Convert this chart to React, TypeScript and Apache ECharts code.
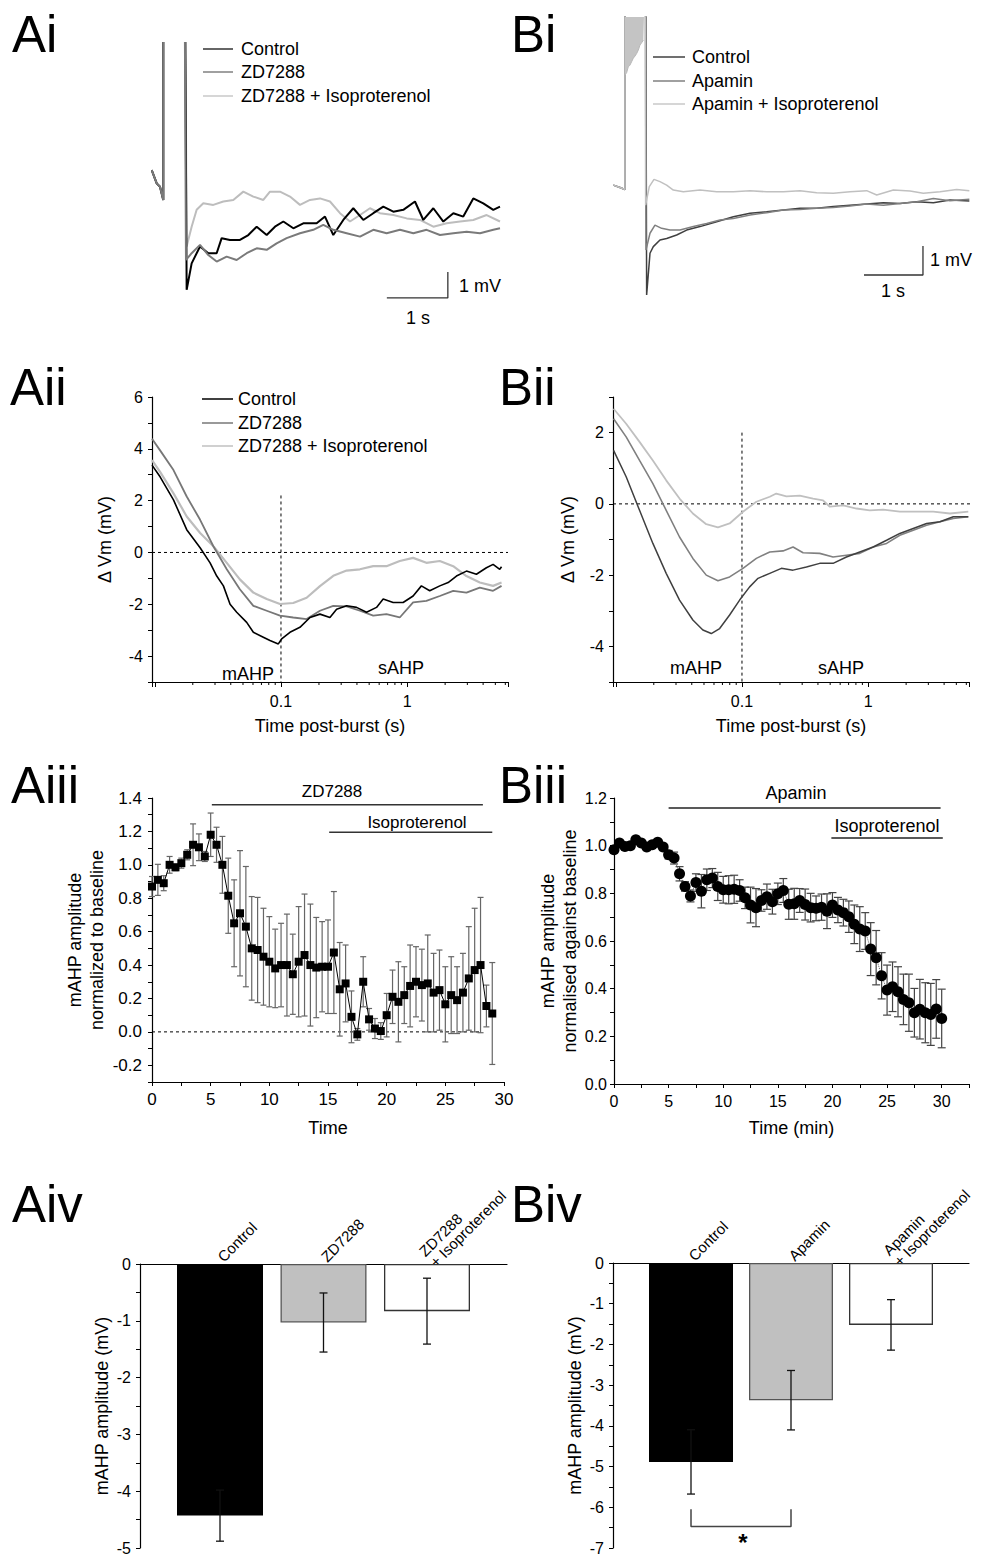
import React, { useEffect, useRef } from 'react';
import * as echarts from 'echarts';

const FONT = 'Liberation Sans, Arial, Helvetica, sans-serif';

// ---------- Ai: raw traces (s, mV) ----------
const aiPreBurst = [[-0.185, 1.15], [-0.103, 0.64], [-0.049, 0.51], [0.005, 0.0], [0.005, 30], [0.311, 30]];
const aiControl = [[0.388, -3.46], [0.47, -2.44], [0.607, -1.79], [0.743, -2.05], [0.88, -2.05], [0.962, -1.47], [1.098, -1.54], [1.262, -1.54], [1.399, -1.35], [1.536, -1.03], [1.7, -1.35], [1.836, -1.03], [1.973, -0.83], [2.137, -1.09], [2.3, -0.9], [2.519, -0.9], [2.656, -0.64], [2.792, -1.35], [2.956, -0.77], [3.12, -0.32], [3.284, -0.77], [3.448, -0.51], [3.612, -0.26], [3.776, -0.45], [3.94, -0.38], [4.131, -0.06], [4.268, -0.77], [4.432, -0.32], [4.596, -0.83], [4.76, -0.51], [4.923, -0.64], [5.087, 0.06], [5.251, -0.13], [5.415, -0.38], [5.525, -0.26]];
const aiZD = [[0.377, -2.31], [0.47, -2.05], [0.607, -1.73], [0.743, -2.12], [0.88, -2.37], [1.044, -2.18], [1.208, -2.31], [1.372, -2.05], [1.536, -1.86], [1.7, -1.92], [1.863, -1.67], [2.027, -1.47], [2.246, -1.28], [2.464, -1.15], [2.628, -0.96], [2.792, -1.15], [3.011, -1.28], [3.23, -1.41], [3.448, -1.15], [3.667, -1.28], [3.885, -1.15], [4.104, -1.28], [4.322, -1.15], [4.541, -1.35], [4.76, -1.28], [4.978, -1.22], [5.197, -1.28], [5.415, -1.15], [5.525, -1.09]];
const aiIso = [[0.388, -1.79], [0.47, -1.03], [0.552, -0.38], [0.661, -0.13], [0.825, -0.19], [0.989, -0.06], [1.153, 0], [1.317, 0.32], [1.481, 0.13], [1.645, 0], [1.754, 0.32], [1.918, 0.32], [2.082, 0.13], [2.246, -0.19], [2.41, 0], [2.574, 0.06], [2.738, -0.06], [2.902, -0.51], [3.066, -0.83], [3.23, -0.58], [3.393, -0.32], [3.557, -0.51], [3.776, -0.58], [3.995, -0.71], [4.213, -0.77], [4.432, -1.03], [4.651, -0.9], [4.869, -0.83], [5.087, -0.77], [5.306, -0.58], [5.525, -0.83]];
const aiScaleBar = [[3.67, -3.77], [4.67, -3.77], [4.67, -2.77]];

// ---------- Bi: raw traces (s, mV) ----------
const biPreBurst = [[-0.198, 0.1], [-0.085, 0.02], [0, -0.05], [0, 30], [0.322, 30]];
const biBurstLowerEdge = [[0, 3.9], [0.028, 3.98], [0.056, 4.18], [0.085, 4.24], [0.113, 4.36], [0.141, 4.48], [0.169, 4.55], [0.198, 4.64], [0.226, 4.76], [0.254, 4.93], [0.282, 5.01], [0.311, 5.1], [0.322, 5.1]];
const biControl = [[0.367, -3.69], [0.424, -2.25], [0.48, -2.02], [0.593, -1.79], [0.706, -1.74], [0.876, -1.62], [1.045, -1.45], [1.271, -1.33], [1.554, -1.16], [1.836, -0.99], [2.119, -0.87], [2.401, -0.82], [2.684, -0.76], [2.966, -0.7], [3.249, -0.7], [3.531, -0.64], [3.814, -0.59], [4.096, -0.55], [4.379, -0.51], [4.661, -0.53], [4.944, -0.47], [5.226, -0.51], [5.508, -0.41], [5.836, -0.45]];
const biApamin = [[0.356, -2.14], [0.424, -1.56], [0.508, -1.28], [0.621, -1.39], [0.763, -1.45], [0.932, -1.45], [1.158, -1.33], [1.384, -1.22], [1.61, -1.1], [1.836, -1.05], [2.119, -0.93], [2.401, -0.85], [2.684, -0.76], [2.966, -0.74], [3.249, -0.7], [3.531, -0.67], [3.814, -0.62], [4.096, -0.55], [4.379, -0.59], [4.661, -0.53], [4.944, -0.47], [5.226, -0.36], [5.508, -0.44], [5.836, -0.39]];
const biIso = [[0.35, -0.59], [0.412, 0.05], [0.492, 0.3], [0.593, 0.22], [0.706, 0.1], [0.819, -0.07], [0.989, -0.13], [1.271, -0.07], [1.554, -0.13], [1.836, -0.13], [2.119, -0.09], [2.401, -0.13], [2.684, -0.13], [2.966, -0.09], [3.249, -0.16], [3.531, -0.18], [3.814, -0.13], [4.096, -0.09], [4.266, -0.24], [4.548, -0.07], [4.831, -0.1], [5.056, -0.18], [5.339, -0.13], [5.621, -0.05], [5.836, -0.09]];
const biScaleBar = [[4.05, -3.0], [5.05, -3.0], [5.05, -2.0]];

// ---------- Aii / Bii: ΔVm vs time post-burst (s, mV) ----------
const aiiControl = [[0.0095, 3.37], [0.01101, 2.92], [0.01406, 2.03], [0.0179, 0.88], [0.02286, 0.18], [0.02742, -0.4], [0.03096, -0.91], [0.03497, -1.29], [0.03949, -2.0], [0.04458, -2.31], [0.05348, -2.7], [0.06039, -3.08], [0.07244, -3.27], [0.08182, -3.4], [0.09527, -3.53], [0.1012, -3.34], [0.1178, -3.08], [0.1413, -2.89], [0.1698, -2.51], [0.2037, -2.38], [0.2443, -2.51], [0.276, -2.19], [0.3311, -2.06], [0.3972, -2.12], [0.4766, -2.31], [0.5717, -2.12], [0.6457, -1.8], [0.7745, -1.93], [0.9291, -1.93], [1.115, -1.68], [1.297, -1.29], [1.51, -1.48], [1.815, -1.29], [2.113, -1.16], [2.459, -0.91], [2.951, -0.72], [3.54, -0.84], [4.249, -0.59], [4.8, -0.46], [5.42, -0.65], [5.6, -0.55]];
const aiiZD = [[0.0095, 4.39], [0.01101, 3.94], [0.01406, 3.18], [0.0179, 2.16], [0.02286, 1.26], [0.0291, 0.24], [0.03718, -0.65], [0.04722, -1.42], [0.06039, -2.06], [0.0771, -2.25], [0.0982, -2.44], [0.125, -2.51], [0.1597, -2.57], [0.2037, -2.25], [0.2598, -2.06], [0.3311, -2.08], [0.4223, -2.25], [0.5383, -2.44], [0.6856, -2.38], [0.8735, -2.51], [1.115, -1.93], [1.42, -1.87], [1.815, -1.68], [2.318, -1.48], [2.951, -1.55], [3.764, -1.36], [4.8, -1.48], [5.6, -1.29]];
const aiiIso = [[0.0095, 3.56], [0.01101, 3.11], [0.01406, 2.28], [0.0179, 1.39], [0.02286, 0.75], [0.0291, 0.24], [0.03718, -0.4], [0.04722, -1.04], [0.06039, -1.55], [0.0771, -1.8], [0.0982, -1.99], [0.125, -1.95], [0.1597, -1.75], [0.2037, -1.3], [0.2598, -0.9], [0.3311, -0.7], [0.4223, -0.65], [0.5383, -0.53], [0.6856, -0.53], [0.8735, -0.33], [1.115, -0.21], [1.42, -0.4], [1.815, -0.33], [2.318, -0.53], [2.951, -0.91], [3.764, -1.16], [4.8, -1.29], [5.6, -1.16]];
const biiControl = [[0.0096, 1.5], [0.01208, 0.76], [0.01542, -0.18], [0.01967, -1.11], [0.02508, -1.95], [0.03199, -2.7], [0.04081, -3.26], [0.04898, -3.54], [0.05711, -3.64], [0.06653, -3.5], [0.0798, -3.12], [0.0958, -2.7], [0.115, -2.33], [0.134, -2.09], [0.166, -1.95], [0.2053, -1.81], [0.2539, -1.86], [0.3241, -1.77], [0.4133, -1.67], [0.5273, -1.67], [0.6728, -1.49], [0.8585, -1.35], [1.096, -1.21], [1.4, -1.02], [1.783, -0.83], [2.277, -0.69], [2.905, -0.55], [3.706, -0.5], [4.73, -0.36], [6.22, -0.36]];
const biiApamin = [[0.0096, 2.39], [0.01208, 1.88], [0.01542, 1.22], [0.01967, 0.57], [0.02508, -0.18], [0.03199, -0.93], [0.04081, -1.53], [0.0521, -2.0], [0.0645, -2.16], [0.0798, -2.05], [0.1018, -1.81], [0.13, -1.53], [0.166, -1.35], [0.2115, -1.32], [0.254, -1.21], [0.305, -1.37], [0.4133, -1.39], [0.5273, -1.49], [0.6728, -1.44], [0.8585, -1.39], [1.096, -1.21], [1.4, -1.11], [1.783, -0.88], [2.277, -0.74], [2.905, -0.6], [3.706, -0.5], [4.73, -0.41], [6.22, -0.36]];
const biiIso = [[0.0096, 2.67], [0.01208, 2.25], [0.01542, 1.74], [0.01967, 1.22], [0.02508, 0.66], [0.03199, 0.15], [0.04081, -0.27], [0.0521, -0.57], [0.0645, -0.66], [0.0798, -0.55], [0.1018, -0.22], [0.13, 0.06], [0.166, 0.2], [0.187, 0.29], [0.225, 0.21], [0.287, 0.23], [0.366, 0.15], [0.439, 0.1], [0.497, -0.08], [0.634, -0.04], [0.808, -0.13], [1.03, -0.18], [1.315, -0.16], [1.783, -0.22], [2.42, -0.22], [3.28, -0.22], [4.45, -0.27], [6.22, -0.22]];
const logMinorTicks = [0.02, 0.03, 0.04, 0.05, 0.06, 0.07, 0.08, 0.09, 0.2, 0.3, 0.4, 0.5, 0.6, 0.7, 0.8, 0.9, 2, 3, 4, 5, 6];

// ---------- Aiii: time course ----------
const aiiiTime = [0, 0.5, 1, 1.5, 2, 2.5, 3, 3.5, 4, 4.5, 5, 5.5, 6, 6.5, 7, 7.5, 8, 8.5, 9, 9.5, 10, 10.5, 11, 11.5, 12, 12.5, 13, 13.5, 14, 14.5, 15, 15.5, 16, 16.5, 17, 17.5, 18, 18.5, 19, 19.5, 20, 20.5, 21, 21.5, 22, 22.5, 23, 23.5, 24, 24.5, 25, 25.5, 26, 26.5, 27, 27.5, 28, 28.5, 29];
const aiiiMean = [0.87, 0.91, 0.89, 1.0, 0.985, 1.01, 1.06, 1.12, 1.105, 1.05, 1.18, 1.12, 1.0, 0.815, 0.65, 0.71, 0.63, 0.5, 0.49, 0.45, 0.42, 0.38, 0.4, 0.4, 0.345, 0.42, 0.46, 0.4, 0.385, 0.39, 0.39, 0.475, 0.255, 0.29, 0.09, -0.015, 0.3, 0.075, 0.02, 0.005, 0.1, 0.21, 0.18, 0.22, 0.275, 0.3, 0.28, 0.29, 0.235, 0.25, 0.165, 0.22, 0.19, 0.235, 0.32, 0.37, 0.4, 0.155, 0.11];
const aiiiSem = [0.06, 0.093, 0.045, 0.05, 0.02, 0.03, 0.03, 0.125, 0.08, 0.03, 0.13, 0.105, 0.17, 0.225, 0.26, 0.375, 0.36, 0.31, 0.315, 0.29, 0.27, 0.235, 0.25, 0.305, 0.24, 0.33, 0.365, 0.365, 0.3, 0.27, 0.28, 0.365, 0.28, 0.23, 0.155, 0.035, 0.15, 0.065, 0.06, 0.05, 0.13, 0.16, 0.24, 0.17, 0.245, 0.21, 0.215, 0.29, 0.235, 0.24, 0.225, 0.23, 0.2, 0.235, 0.31, 0.37, 0.405, 0.125, 0.305];
const aiiiDrugBar = [[5.1, 1.36], [28.2, 1.36]];
const aiiiIsoBar = [[15.1, 1.195], [29, 1.195]];
const aiiiZeroLine = [[0, 0], [28, 0]];

// ---------- Biii: time course ----------
const biiiTime = [0, 0.5, 1, 1.5, 2, 2.5, 3, 3.5, 4, 4.5, 5, 5.5, 6, 6.5, 7, 7.5, 8, 8.5, 9, 9.5, 10, 10.5, 11, 11.5, 12, 12.5, 13, 13.5, 14, 14.5, 15, 15.5, 16, 16.5, 17, 17.5, 18, 18.5, 19, 19.5, 20, 20.5, 21, 21.5, 22, 22.5, 23, 23.5, 24, 24.5, 25, 25.5, 26, 26.5, 27, 27.5, 28, 28.5, 29, 29.5, 30];
const biiiMean = [0.983, 1.011, 0.997, 1.0, 1.025, 1.011, 0.994, 1.004, 1.014, 0.994, 0.962, 0.948, 0.882, 0.829, 0.789, 0.845, 0.809, 0.857, 0.864, 0.829, 0.815, 0.815, 0.817, 0.812, 0.781, 0.751, 0.74, 0.77, 0.786, 0.765, 0.798, 0.812, 0.754, 0.756, 0.77, 0.753, 0.74, 0.737, 0.742, 0.725, 0.751, 0.73, 0.719, 0.702, 0.67, 0.65, 0.642, 0.566, 0.53, 0.454, 0.394, 0.408, 0.387, 0.355, 0.341, 0.299, 0.314, 0.299, 0.292, 0.315, 0.275];
const biiiSem = [0.01, 0.01, 0.01, 0.01, 0.01, 0.01, 0.01, 0.01, 0.01, 0.01, 0.018, 0.025, 0.03, 0.02, 0.025, 0.037, 0.07, 0.045, 0.04, 0.059, 0.056, 0.059, 0.059, 0.045, 0.045, 0.075, 0.08, 0.045, 0.053, 0.052, 0.045, 0.05, 0.063, 0.065, 0.05, 0.065, 0.06, 0.052, 0.055, 0.073, 0.052, 0.053, 0.056, 0.066, 0.081, 0.094, 0.077, 0.111, 0.114, 0.097, 0.105, 0.104, 0.105, 0.106, 0.12, 0.102, 0.125, 0.126, 0.13, 0.123, 0.123];
const biiiDrugBar = [[5, 1.158], [29.9, 1.158]];
const biiiIsoBar = [[19.9, 1.032], [30.1, 1.032]];

// ---------- Aiv / Biv: bar charts ----------
const barPositions = [1, 2, 3];
const aivCategories = ['Control', 'ZD7288', 'ZD7288\n+ Isoproterenol'];
const aivMeans = [-4.43, -1.03, -0.83];
const aivSem = [0.45, 0.52, 0.58];
const bivCategories = ['Control', 'Apamin', 'Apamin\n+ Isoproterenol'];
const bivMeans = [-4.885, -3.37, -1.52];
const bivSem = [0.79, 0.73, 0.62];
const bivBracket = [[1, -6.05], [1, -6.47], [2, -6.47], [2, -6.05]];
const barFills = ['#000000', '#c0c0c0', '#ffffff'];
const barBorders = ['#000000', '#555555', '#333333'];

// ---------- helpers ----------
function axis(o: any) {
  return {
    type: o.type || 'value',
    gridIndex: o.grid,
    min: o.min,
    max: o.max,
    interval: o.interval,
    logBase: o.logBase,
    position: o.position,
    name: o.name,
    nameLocation: 'middle',
    nameGap: o.nameGap,
    nameRotate: o.nameRotate,
    nameTextStyle: { color: '#000', fontFamily: FONT, fontSize: 18, lineHeight: 22 },
    axisLine: { show: true, onZero: false, lineStyle: { color: '#000', width: 1.2 } },
    axisTick: { show: o.showTick !== false, length: o.tickLength || 4, lineStyle: { color: '#000', width: 1 } },
    axisLabel: {
      show: true,
      color: '#000',
      fontFamily: FONT,
      fontSize: o.fontSize || 15,
      lineHeight: o.lineHeight,
      margin: o.margin || 8,
      formatter: o.formatter,
      rotate: o.rotate,
      customValues: o.customValues,
      hideOverlap: false,
    },
    splitLine: { show: false },
    minorTick: { show: false },
  };
}

function lineSeries(xi: number, data: any[], color: string, width: number, extra: any = {}) {
  return {
    type: 'line',
    xAxisIndex: xi,
    yAxisIndex: xi,
    data,
    symbol: 'none',
    showSymbol: false,
    silent: true,
    clip: true,
    lineStyle: { color, width, ...(extra.lineStyle || {}) },
    itemStyle: { color },
    z: 2,
  };
}

function errorBars(xi: number, data: number[][], color: string, cap: number, width: number, z: number) {
  return {
    type: 'custom',
    xAxisIndex: xi,
    yAxisIndex: xi,
    data,
    z,
    clip: false,
    silent: true,
    encode: { x: 0, y: 1 },
    renderItem: (params: any, api: any) => {
      const x = api.value(0);
      const y = api.value(1);
      const e = api.value(2);
      const t = api.coord([x, y + e]);
      const b = api.coord([x, y - e]);
      const st = { stroke: color, lineWidth: width, fill: 'none' };
      return {
        type: 'group',
        children: [
          { type: 'line', shape: { x1: t[0], y1: t[1], x2: b[0], y2: b[1] }, style: st },
          { type: 'line', shape: { x1: t[0] - cap, y1: t[1], x2: t[0] + cap, y2: t[1] }, style: st },
          { type: 'line', shape: { x1: b[0] - cap, y1: b[1], x2: b[0] + cap, y2: b[1] }, style: st },
        ],
      };
    },
  };
}

function minorTicks(xi: number, yMin: number) {
  return {
    type: 'custom',
    xAxisIndex: xi,
    yAxisIndex: xi,
    data: logMinorTicks.map((v) => [v, yMin]),
    clip: false,
    silent: true,
    encode: { x: 0, y: 1 },
    renderItem: (params: any, api: any) => {
      const p = api.coord([api.value(0), api.value(1)]);
      return { type: 'line', shape: { x1: p[0], y1: p[1], x2: p[0], y2: p[1] + 3 }, style: { stroke: '#000', lineWidth: 1 } };
    },
  };
}

function gText(text: string, x: number, y: number, size: number, align = 'left', extra: any = {}) {
  return {
    type: 'text',
    x,
    y,
    silent: true,
    z: 100,
    style: {
      text,
      fill: '#000',
      fontSize: size,
      fontFamily: FONT,
      fontWeight: extra.fontWeight || 'normal',
      align,
      verticalAlign: 'middle',
      textAlign: align,
      textVerticalAlign: 'middle',
    },
  };
}

function gLine(x1: number, y1: number, x2: number, y2: number, color: string, w = 1.5) {
  return { type: 'line', silent: true, z: 100, shape: { x1, y1, x2, y2 }, style: { stroke: color, lineWidth: w } };
}

const evenInt = (v: number) => (Math.round(v) === v && Math.round(v) % 2 === 0 ? String(v) : '');
const evenTenth = (v: number) => (Math.round(v * 10) % 2 === 0 ? (Math.round(v * 10) / 10).toFixed(1) : '');
const mult5 = (v: number) => (Math.abs(v % 5) < 1e-9 ? String(v) : '');
const intOnly = (v: number) => (Math.abs(v - Math.round(v)) < 1e-9 ? String(Math.round(v)) : '');
const logLabel = (v: number) => (Math.abs(v - 0.1) < 1e-6 ? '0.1' : Math.abs(v - 1) < 1e-6 ? '1' : '');

function buildOption() {
  const grids = [
    { left: 152, top: 43, width: 348, height: 257 },
    { left: 613, top: 17, width: 357, height: 283 },
    { left: 152, top: 397, width: 356, height: 285 },
    { left: 613, top: 397, width: 356, height: 285 },
    { left: 152, top: 798, width: 352, height: 284 },
    { left: 614, top: 798, width: 355, height: 286 },
    { left: 140, top: 1264, width: 367, height: 284 },
    { left: 613, top: 1263, width: 356, height: 285 },
  ].map((g) => ({ ...g, containLabel: false, outerBoundsMode: 'none', show: false }));

  const xAxis = [
    { type: 'value', gridIndex: 0, min: -0.18, max: 5.525, show: false },
    { type: 'value', gridIndex: 1, min: -0.203, max: 5.847, show: false },
    axis({ grid: 2, type: 'log', logBase: 10, min: 0.0095, max: 6.3, formatter: logLabel, fontSize: 16, margin: 11, tickLength: 5, name: 'Time post-burst (s)', nameGap: 33 }),
    axis({ grid: 3, type: 'log', logBase: 10, min: 0.0095, max: 6.3, formatter: logLabel, fontSize: 16, margin: 11, tickLength: 5, name: 'Time post-burst (s)', nameGap: 33 }),
    axis({ grid: 4, min: 0, max: 30, interval: 2.5, formatter: mult5, fontSize: 17, margin: 9, name: 'Time', nameGap: 35 }),
    axis({ grid: 5, min: 0, max: 32.5, interval: 2.5, formatter: mult5, fontSize: 16, margin: 9, name: 'Time (min)', nameGap: 33 }),
    axis({ grid: 6, min: 0.227, max: 3.773, position: 'top', showTick: false, customValues: barPositions, rotate: -45, fontSize: 15, margin: 5, formatter: (v: number) => aivCategories[Math.round(v) - 1] || '' }),
    axis({ grid: 7, min: 0.22, max: 3.78, position: 'top', showTick: false, customValues: barPositions, rotate: -45, fontSize: 15, margin: 5, formatter: (v: number) => bivCategories[Math.round(v) - 1] || '' }),
  ];

  const yAxis = [
    { type: 'value', gridIndex: 0, min: -3.85, max: 6.04, show: false },
    { type: 'value', gridIndex: 1, min: -3.862, max: 5.9, show: false },
    axis({ grid: 2, min: -5, max: 6, interval: 1, formatter: evenInt, fontSize: 16, margin: 9, name: 'Δ Vm (mV)', nameGap: 36, nameRotate: 90 }),
    axis({ grid: 3, min: -5, max: 3, interval: 1, formatter: evenInt, fontSize: 16, margin: 9, name: 'Δ Vm (mV)', nameGap: 34, nameRotate: 90 }),
    axis({ grid: 4, min: -0.3, max: 1.4, interval: 0.1, formatter: evenTenth, fontSize: 17, margin: 10, name: 'mAHP amplitude\nnormalized to baseline', nameGap: 44, nameRotate: 90 }),
    axis({ grid: 5, min: 0, max: 1.2, interval: 0.1, formatter: evenTenth, fontSize: 16, margin: 7, name: 'mAHP amplitude\nnormalised against baseline', nameGap: 28, nameRotate: 90 }),
    axis({ grid: 6, min: -5, max: 0, interval: 0.5, formatter: intOnly, fontSize: 16, margin: 9, name: 'mAHP amplitude (mV)', nameGap: 25, nameRotate: 90 }),
    axis({ grid: 7, min: -7, max: 0, interval: 0.5, formatter: intOnly, fontSize: 16, margin: 9, name: 'mAHP amplitude (mV)', nameGap: 22, nameRotate: 90 }),
  ];

  const dashed = { lineStyle: { type: [3, 3] } };

  const series: any[] = [
    // Ai
    lineSeries(0, [...aiPreBurst, ...aiIso], '#bdbdbd', 2),
    lineSeries(0, [...aiPreBurst, ...aiControl], '#000000', 2),
    lineSeries(0, [...aiPreBurst, ...aiZD], '#7a7a7a', 2),
    lineSeries(0, aiScaleBar, '#333333', 1.3),
    // Bi
    lineSeries(1, [...biPreBurst, ...biControl], '#404040', 1.5),
    lineSeries(1, [...biPreBurst, ...biApamin], '#808080', 1.5),
    lineSeries(1, [...biPreBurst, ...biIso], '#c0c0c0', 1.5),
    {
      type: 'line', xAxisIndex: 1, yAxisIndex: 1, data: biBurstLowerEdge, symbol: 'none', showSymbol: false, silent: true, clip: true, z: 3,
      lineStyle: { color: '#b8b8b8', width: 1 }, areaStyle: { origin: 'end', color: '#c4c4c4', opacity: 1 },
    },
    lineSeries(1, biScaleBar, '#333333', 1.3),
    // Aii
    lineSeries(2, [[0.0095, 0], [6.3, 0]], '#000', 1, dashed),
    lineSeries(2, [[0.1, 2.2], [0.1, -5]], '#000', 1, dashed),
    lineSeries(2, aiiIso, '#bdbdbd', 2.2),
    lineSeries(2, aiiZD, '#777777', 1.8),
    lineSeries(2, aiiControl, '#000000', 1.6),
    minorTicks(2, -5),
    // Bii
    { ...lineSeries(3, [[0.0095, 0], [10.7, 0]], '#000', 1, dashed), clip: false },
    lineSeries(3, [[0.1, 2.0], [0.1, -5]], '#000', 1, dashed),
    lineSeries(3, biiIso, '#c0c0c0', 1.8),
    lineSeries(3, biiApamin, '#808080', 1.6),
    lineSeries(3, biiControl, '#404040', 1.5),
    minorTicks(3, -5),
    // Aiii
    lineSeries(4, aiiiZeroLine, '#000', 1, dashed),
    errorBars(4, aiiiTime.map((t, i) => [t, aiiiMean[i], aiiiSem[i]]), '#666666', 3, 1.2, 3),
    {
      type: 'line', xAxisIndex: 4, yAxisIndex: 4, silent: true, clip: false, z: 4,
      data: aiiiTime.map((t, i) => [t, aiiiMean[i]]),
      symbol: 'rect', symbolSize: 8, showSymbol: true,
      itemStyle: { color: '#000' }, lineStyle: { color: '#000', width: 1 },
    },
    lineSeries(4, aiiiDrugBar, '#333', 1.5),
    lineSeries(4, aiiiIsoBar, '#333', 1.5),
    // Biii
    errorBars(5, biiiTime.map((t, i) => [t, biiiMean[i], biiiSem[i]]), '#444444', 4, 1.2, 3),
    {
      type: 'line', xAxisIndex: 5, yAxisIndex: 5, silent: true, clip: false, z: 4,
      data: biiiTime.map((t, i) => [t, biiiMean[i]]),
      symbol: 'circle', symbolSize: 11, showSymbol: true,
      itemStyle: { color: '#000' }, lineStyle: { color: '#555', width: 1, type: 'dotted' },
    },
    lineSeries(5, biiiDrugBar, '#222', 1.5),
    lineSeries(5, biiiIsoBar, '#222', 1.5),
    // Aiv
    {
      type: 'bar', xAxisIndex: 6, yAxisIndex: 6, barWidth: 86, silent: true, z: 2,
      data: barPositions.map((x, i) => ({ value: [x, aivMeans[i]], itemStyle: { color: barFills[i], borderColor: barBorders[i], borderWidth: 1.3 } })),
    },
    errorBars(6, barPositions.map((x, i) => [x, aivMeans[i], aivSem[i]]), '#111', 4, 1.3, 5),
    // Biv
    {
      type: 'bar', xAxisIndex: 7, yAxisIndex: 7, barWidth: 84, silent: true, z: 2,
      data: barPositions.map((x, i) => ({ value: [x, bivMeans[i]], itemStyle: { color: barFills[i], borderColor: barBorders[i], borderWidth: 1.3 } })),
    },
    errorBars(7, barPositions.map((x, i) => [x, bivMeans[i], bivSem[i]]), '#111', 4, 1.3, 5),
    lineSeries(7, bivBracket, '#444', 1.5),
  ];

  const graphic = [
    // panel letters
    gText('Ai', 12, 34, 51),
    gText('Bi', 511, 34, 51),
    gText('Aii', 10, 387, 51),
    gText('Bii', 499, 387, 51),
    gText('Aiii', 11, 785, 51),
    gText('Biii', 499, 785, 51),
    gText('Aiv', 12, 1204, 51),
    gText('Biv', 511, 1204, 51),
    // Ai legend
    gLine(203, 49, 233, 49, '#333333'),
    gLine(203, 72, 233, 72, '#808080'),
    gLine(203, 96, 233, 96, '#c8c8c8'),
    gText('Control', 241, 49, 18),
    gText('ZD7288', 241, 72, 18),
    gText('ZD7288 + Isoproterenol', 241, 96, 18),
    // Bi legend
    gLine(653, 57, 685, 57, '#404040'),
    gLine(653, 81, 685, 81, '#808080'),
    gLine(653, 104, 685, 104, '#c8c8c8'),
    gText('Control', 692, 57, 18),
    gText('Apamin', 692, 81, 18),
    gText('Apamin + Isoproterenol', 692, 104, 18),
    // scale bar labels
    gText('1 mV', 459, 286, 18),
    gText('1 s', 418, 318, 18, 'center'),
    gText('1 mV', 930, 260, 18),
    gText('1 s', 893, 291, 18, 'center'),
    // Aii legend
    gLine(202, 399, 233, 399, '#000000'),
    gLine(202, 423, 233, 423, '#777777'),
    gLine(202, 446, 233, 446, '#c0c0c0'),
    gText('Control', 238, 399, 18),
    gText('ZD7288', 238, 423, 18),
    gText('ZD7288 + Isoproterenol', 238, 446, 18),
    // mAHP / sAHP
    gText('mAHP', 248, 674, 18, 'center'),
    gText('sAHP', 401, 668, 18, 'center'),
    gText('mAHP', 696, 668, 18, 'center'),
    gText('sAHP', 841, 668, 18, 'center'),
    // Aiii / Biii annotations
    gText('ZD7288', 332, 791, 17, 'center'),
    gText('Isoproterenol', 417, 822, 17, 'center'),
    gText('Apamin', 796, 793, 18, 'center'),
    gText('Isoproterenol', 887, 826, 18, 'center'),
    // significance
    gText('*', 743, 1542, 24, 'center', { fontWeight: 'bold' }),
  ];

  return {
    animation: false,
    backgroundColor: '#ffffff',
    textStyle: { fontFamily: FONT, color: '#000' },
    grid: grids,
    xAxis,
    yAxis,
    series,
    graphic: { elements: graphic },
  };
}

export default function App() {
  const ref = useRef<HTMLDivElement>(null);
  useEffect(() => {
    if (!ref.current) return;
    const chart = echarts.init(ref.current, null, { renderer: 'svg' });
    chart.setOption(buildOption() as any);
    return () => chart.dispose();
  }, []);
  return (
    <div
      ref={ref}
      style={{ position: 'absolute', left: 0, top: 0, width: 998, height: 1556, background: '#fff' }}
    />
  );
}
